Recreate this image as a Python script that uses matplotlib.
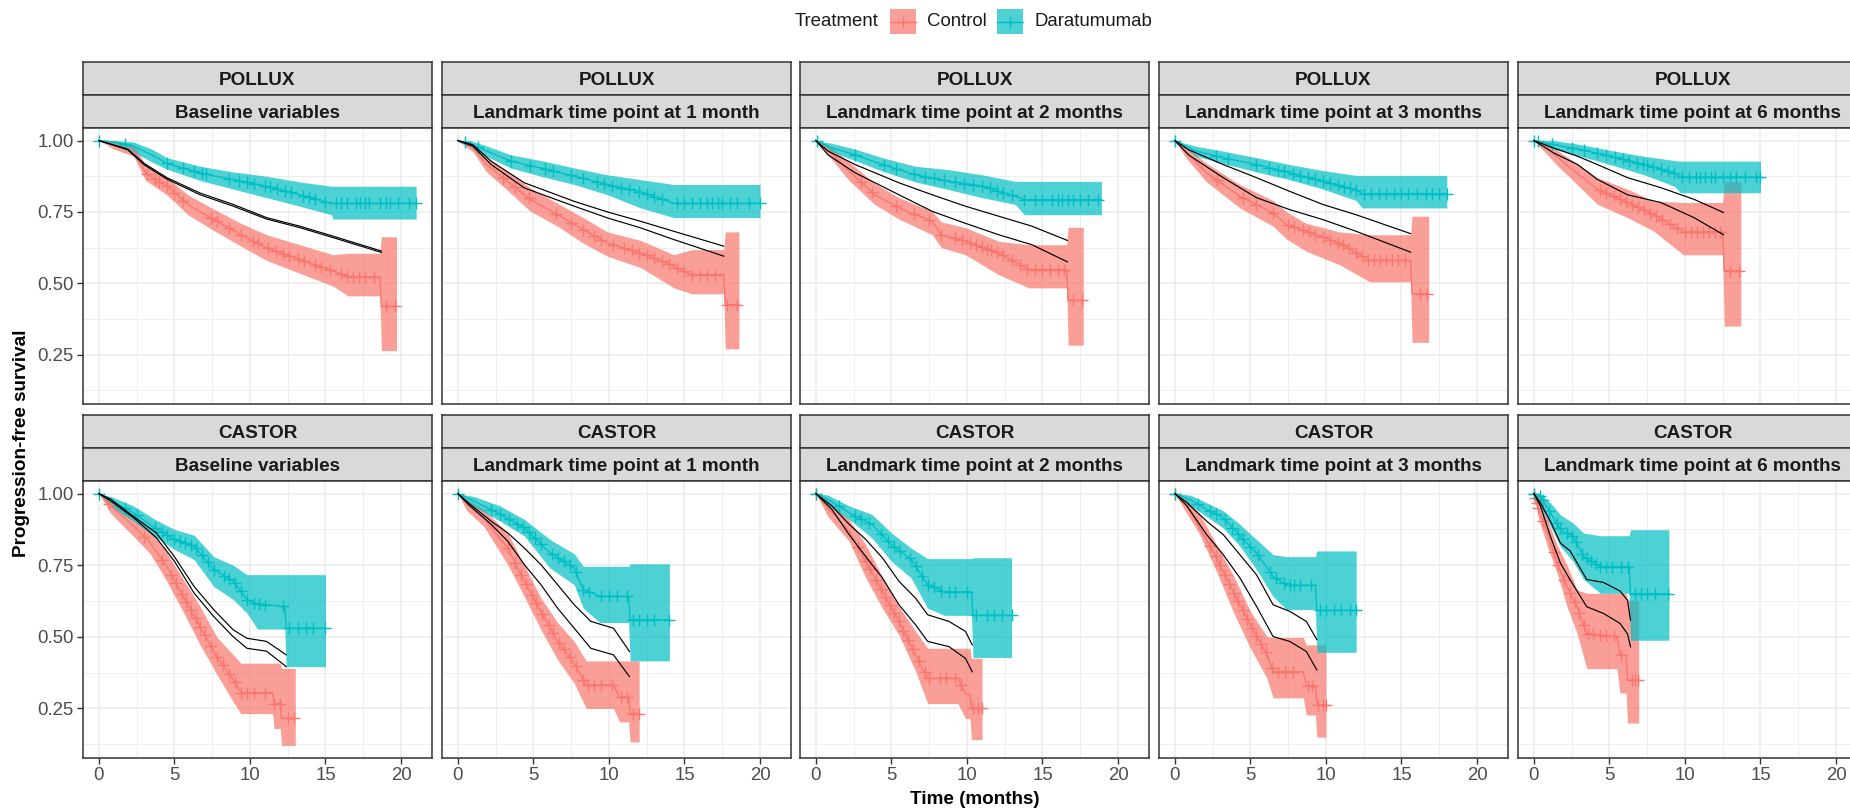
import numpy as np
import matplotlib
matplotlib.use('Agg')
import matplotlib.pyplot as plt
from matplotlib.patches import Rectangle
from matplotlib.lines import Line2D

plt.rcParams['font.family'] = ['Liberation Sans', 'DejaVu Sans']

CTRL = '#F8766D'
DARA = '#00BFC4'

studies = ['POLLUX', 'CASTOR']
landmarks = ['Baseline variables', 'Landmark time point at 1 month', 'Landmark time point at 2 months',
             'Landmark time point at 3 months', 'Landmark time point at 6 months']
x_ticks = [0, 5, 10, 15, 20]
y_ticks = [0.25, 0.50, 0.75, 1.00]

# KM curves: rows of (time, surv, lower CI, upper CI)
pollux_bl_dara = [[0, 1, 1, 1], [1.0, .995, .985, 1], [2.3, .98, .96, .995], [3.5, .95, .925, .97],
                  [4.5, .92, .90, .94], [6.7, .886, .86, .91], [8.9, .863, .83, .89], [11.1, .84, .80, .875],
                  [13.3, .81, .77, .855], [15.4, .78, .74, .84], [15.5, .78, .725, .84], [21.0, .78, .725, .84]]
pollux_bl_ctrl = [[0, 1, 1, 1], [1.0, .985, .97, 1], [2.3, .967, .945, .985], [3.1, .886, .86, .915],
                  [4.5, .84, .81, .87], [5.9, .776, .74, .81], [7.6, .723, .685, .76], [9.4, .67, .63, .71],
                  [11.1, .624, .58, .67], [13.3, .584, .535, .635], [15.5, .543, .49, .60],
                  [16.5, .522, .456, .605], [18.6, .522, .456, .605], [18.7, .419, .264, .663],
                  [19.7, .419, .264, .663]]
pollux_lm1_dara = [[0, 1, 1, 1], [0.8, .99, .98, 1], [1.7, .968, .95, .985], [3.5, .928, .904, .95],
                   [5.5, .904, .875, .93], [7.7, .875, .846, .904], [9.9, .846, .81, .88], [12.1, .82, .764, .863],
                   [14.3, .78, .73, .846], [20.0, .78, .73, .846]]
pollux_lm1_ctrl = [[0, 1, 1, 1], [1.0, .975, .96, .99], [1.9, .916, .89, .94], [3.3, .857, .825, .89],
                   [4.8, .793, .752, .834], [6.6, .74, .70, .78], [8.3, .688, .64, .73], [9.9, .64, .595, .68],
                   [12.1, .606, .555, .65], [14.3, .56, .484, .60], [15.5, .53, .463, .618],
                   [17.6, .53, .463, .618], [17.7, .425, .27, .68], [18.6, .425, .27, .68]]
pollux_lm2_dara = [[0, 1, 1, 1], [1.06, .974, .96, .99], [2.6, .95, .93, .97], [4.4, .916, .893, .94],
                   [6.6, .88, .855, .91], [8.8, .857, .828, .898], [11.0, .84, .80, .88], [13.2, .805, .776, .857],
                   [13.8, .793, .74, .857], [18.9, .793, .74, .857]]
pollux_lm2_ctrl = [[0, 1, 1, 1], [0.8, .968, .95, .985], [2.2, .893, .86, .925], [3.9, .81, .776, .85],
                   [5.5, .764, .725, .80], [7.7, .717, .67, .752], [8.3, .67, .625, .715], [9.9, .647, .60, .695],
                   [12.1, .606, .53, .647], [14.1, .548, .484, .635], [16.6, .548, .484, .635],
                   [16.7, .44, .283, .696], [17.7, .44, .283, .696]]
pollux_lm3_dara = [[0, 1, 1, 1], [1.4, .963, .945, .98], [3.2, .94, .92, .963], [5.4, .916, .89, .94],
                   [7.6, .887, .863, .916], [9.8, .857, .83, .895], [12.0, .828, .79, .878],
                   [12.4, .814, .764, .878], [18.0, .814, .764, .878]]
pollux_lm3_ctrl = [[0, 1, 1, 1], [0.8, .957, .935, .975], [2.1, .887, .855, .92], [4.3, .805, .764, .846],
                   [6.5, .746, .70, .79], [7.4, .705, .655, .75], [8.7, .682, .612, .71], [10.9, .64, .565, .68],
                   [12.9, .58, .505, .67], [15.6, .58, .505, .67], [15.7, .463, .293, .735],
                   [16.8, .463, .293, .735]]
pollux_lm6_dara = [[0, 1, 1, 1], [1.3, .986, .97, 1], [3.1, .968, .945, .986], [5.1, .945, .915, .965],
                   [7.3, .916, .88, .945], [9.3, .887, .84, .93], [9.7, .872, .817, .928],
                   [15.0, .872, .817, .928]]
pollux_lm6_ctrl = [[0, 1, 1, 1], [0.9, .974, .95, .99], [1.5, .945, .915, .968], [2.4, .905, .87, .935],
                   [4.2, .83, .777, .87], [6.2, .783, .73, .83], [7.9, .742, .684, .788], [9.9, .68, .60, .783],
                   [12.5, .68, .60, .783], [12.6, .544, .35, .856], [13.7, .544, .35, .856]]

castor_bl_dara = [[0, 1, 1, 1], [0.8, .974, .955, .99], [2.3, .933, .904, .957], [3.7, .88, .85, .91],
                  [5.0, .84, .805, .875], [6.3, .817, .77, .855], [7.6, .735, .676, .78], [8.9, .694, .63, .75],
                  [9.8, .63, .583, .717], [10.5, .615, .527, .717], [12.3, .606, .527, .717],
                  [12.4, .53, .396, .717], [15.0, .53, .396, .717]]
castor_bl_ctrl = [[0, 1, 1, 1], [0.8, .957, .93, .98], [2.3, .887, .85, .92], [3.4, .828, .79, .87],
                  [4.5, .746, .694, .793], [5.6, .64, .585, .70], [6.7, .536, .472, .606], [7.8, .43, .37, .50],
                  [8.9, .35, .273, .437], [9.4, .305, .232, .408], [11.5, .305, .232, .408],
                  [11.6, .267, .18, .408], [12.0, .267, .18, .408], [12.1, .215, .121, .39],
                  [13.0, .215, .121, .39]]
castor_lm1_dara = [[0, 1, 1, 1], [1.06, .974, .955, .99], [2.8, .928, .904, .957], [4.4, .88, .852, .91],
                   [6.1, .793, .74, .84], [7.7, .74, .682, .79], [8.3, .665, .60, .746], [9.4, .641, .55, .746],
                   [11.3, .641, .55, .746], [11.4, .56, .416, .755], [14.0, .56, .416, .755]]
castor_lm1_ctrl = [[0, 1, 1, 1], [0.6, .963, .94, .98], [1.7, .916, .887, .945], [3.3, .81, .752, .863],
                   [4.4, .694, .64, .75], [5.5, .589, .525, .636], [6.6, .484, .42, .55], [7.7, .408, .338, .484],
                   [8.5, .332, .25, .416], [10.3, .332, .25, .416], [10.7, .29, .203, .416],
                   [11.3, .29, .203, .416], [11.4, .232, .133, .416], [12.0, .232, .133, .416]]
castor_lm2_dara = [[0, 1, 1, 1], [0.8, .98, .96, .995], [2.2, .933, .91, .957], [3.7, .893, .846, .928],
                   [5.0, .822, .764, .863], [6.3, .77, .706, .81], [7.4, .682, .60, .773], [8.5, .657, .575, .773],
                   [10.3, .657, .575, .773], [10.4, .575, .428, .776], [12.95, .575, .428, .776]]
castor_lm2_ctrl = [[0, 1, 1, 1], [0.8, .95, .92, .975], [2.2, .87, .834, .91], [3.3, .764, .706, .822],
                   [4.4, .659, .60, .71], [5.5, .554, .507, .606], [6.6, .437, .38, .52], [7.4, .355, .267, .46],
                   [9.4, .355, .267, .46], [9.9, .30, .215, .46], [10.2, .30, .215, .46],
                   [10.3, .25, .141, .425], [11.0, .25, .141, .425]]
castor_lm3_dara = [[0, 1, 1, 1], [1.0, .98, .96, .995], [2.1, .945, .92, .968], [3.2, .916, .88, .94],
                   [4.3, .852, .817, .893], [5.4, .793, .735, .84], [6.5, .711, .641, .787], [7.4, .68, .595, .78],
                   [9.3, .68, .595, .78], [9.4, .592, .446, .80], [12.0, .592, .446, .80]]
castor_lm3_ctrl = [[0, 1, 1, 1], [0.8, .957, .93, .98], [1.65, .88, .857, .928], [2.75, .776, .729, .822],
                   [3.85, .659, .589, .717], [5.0, .542, .46, .589], [6.1, .437, .355, .501],
                   [6.5, .378, .287, .498], [8.5, .378, .287, .498], [8.7, .33, .227, .472],
                   [9.3, .33, .227, .472], [9.4, .262, .15, .472], [10.0, .262, .15, .472]]
castor_lm6_dara = [[0, 1, 1, 1], [0.44, .99, .956, 1], [1.1, .932, .886, .967], [1.76, .874, .815, .926],
                   [2.6, .85, .763, .897], [3.3, .78, .70, .862], [4.4, .745, .652, .853],
                   [6.3, .745, .652, .853], [6.4, .65, .488, .874], [8.94, .65, .488, .874]]
castor_lm6_ctrl = [[0, 1, 1, 1], [0.33, .944, .909, .98], [0.9, .862, .815, .909], [1.54, .757, .722, .82],
                   [2.2, .675, .605, .75], [2.86, .605, .512, .664], [3.5, .512, .389, .652],
                   [5.5, .50, .389, .652], [5.7, .436, .304, .652], [6.1, .436, .304, .652],
                   [6.2, .348, .199, .628], [6.94, .348, .199, .628]]

# censoring times (+ marks): (daratumumab, control)
pollux_bl_cens = ([0, 1.7, 4.5, 5.6, 6.3, 6.8, 7.1, 8.6, 9.3, 9.8, 10.3, 11.0, 11.3, 11.8, 12.3, 12.7, 13.5, 13.9,
                   14.3, 15.0, 15.7, 16.0, 16.4, 17.0, 17.3, 17.6, 17.9, 18.6, 19.0, 19.3, 19.8, 20.5, 21.0],
                  [3.2, 3.7, 4.0, 4.5, 5.0, 5.6, 7.4, 7.8, 8.6, 9.4, 10.2, 10.5, 11.2, 11.7, 12.2, 12.6, 13.2,
                   13.6, 14.3, 14.7, 15.3, 16.0, 16.4, 16.8, 17.2, 17.6, 18.2, 19.0, 19.6])
pollux_lm1_cens = ([0.5, 1.3, 3.5, 4.8, 5.8, 6.3, 7.5, 8.3, 9.2, 9.7, 10.2, 10.8, 11.3, 12.0, 12.5, 13.0, 13.5,
                    14.5, 15.0, 15.5, 16.0, 16.5, 16.8, 17.2, 17.5, 18.0, 18.5, 19.3, 20.0],
                   [3.0, 3.8, 4.7, 6.5, 7.5, 8.3, 9.0, 9.5, 10.3, 11.0, 11.5, 12.0, 12.5, 13.0, 13.5, 14.0,
                    14.5, 15.0, 15.5, 16.0, 16.5, 17.0, 17.8, 18.5])
pollux_lm2_cens = ([0.1, 2.6, 4.5, 5.3, 6.5, 7.2, 7.8, 8.5, 9.2, 9.8, 10.4, 11.0, 11.5, 12.0, 12.4, 13.0, 13.8,
                    14.5, 15.0, 15.6, 16.0, 16.3, 16.7, 17.0, 17.5, 18.0, 18.7],
                   [3.0, 3.7, 5.3, 6.5, 7.5, 8.3, 9.2, 9.7, 10.2, 10.6, 11.0, 11.3, 11.6, 12.0, 12.4, 13.0,
                    13.5, 14.0, 14.5, 15.0, 15.5, 16.0, 16.4, 17.0, 17.6])
pollux_lm3_cens = ([0.0, 2.7, 3.5, 5.4, 6.2, 6.8, 7.2, 7.8, 8.3, 8.8, 9.3, 9.8, 10.3, 10.8, 11.2, 11.6, 12.0,
                    12.5, 13.0, 13.5, 14.0, 14.5, 15.0, 15.4, 16.0, 16.6, 17.0, 17.5, 18.0],
                   [2.8, 4.5, 5.4, 6.5, 7.5, 7.9, 8.5, 8.9, 9.3, 9.8, 10.3, 10.8, 11.1, 11.5, 12.0, 12.4,
                    12.8, 13.2, 13.6, 14.0, 14.4, 14.8, 15.2, 16.2, 16.7])
pollux_lm6_cens = ([0.0, 0.3, 1.2, 2.5, 3.3, 4.2, 4.8, 5.4, 5.9, 6.3, 6.8, 7.2, 7.5, 7.9, 8.4, 8.9, 9.3, 9.8,
                    10.3, 10.7, 11.0, 11.3, 11.7, 12.0, 12.5, 13.0, 13.4, 14.0, 14.7, 15.0],
                   [4.4, 4.8, 5.3, 5.7, 6.1, 6.5, 6.9, 7.3, 7.7, 8.1, 8.5, 9.0, 9.5, 10.0, 10.4, 10.8, 11.2,
                    11.6, 12.0, 12.3, 13.0, 13.6])
castor_bl_cens = ([0.0, 1.7, 2.5, 3.7, 4.2, 4.5, 5.0, 5.4, 5.7, 6.1, 6.4, 6.8, 7.2, 7.6, 8.3, 8.6, 9.0, 9.4,
                   9.8, 10.3, 10.6, 11.0, 12.2, 12.6, 13.2, 13.7, 14.2, 15.0],
                  [0.7, 3.0, 4.2, 4.8, 5.1, 5.5, 5.8, 6.1, 6.4, 6.7, 7.0, 7.4, 7.8, 8.2, 8.6, 9.0, 9.4, 9.8,
                   10.3, 11.0, 11.6, 12.0, 12.5, 12.9])
castor_lm1_cens = ([0.0, 2.2, 2.8, 3.4, 3.9, 4.3, 4.7, 5.1, 5.5, 6.2, 6.6, 7.0, 7.4, 7.8, 8.3, 8.7, 9.5, 10.0,
                    10.5, 11.2, 11.6, 12.0, 12.5, 13.0, 14.0],
                   [3.3, 3.8, 4.2, 4.5, 4.9, 5.2, 5.6, 6.0, 6.3, 6.7, 7.0, 7.4, 7.8, 8.3, 8.6, 9.0, 9.5,
                    10.2, 10.8, 11.2, 11.6, 12.0])
castor_lm2_cens = ([0.0, 1.5, 2.6, 3.0, 3.5, 4.3, 4.8, 5.2, 5.6, 6.2, 6.6, 7.0, 7.4, 7.8, 8.3, 8.8, 9.2, 10.0,
                    10.6, 11.3, 11.8, 12.3, 12.95],
                   [0.0, 2.8, 3.3, 3.6, 4.0, 4.3, 4.6, 4.9, 5.2, 5.5, 5.8, 6.1, 6.4, 6.8, 7.2, 7.5, 8.2,
                    8.6, 9.2, 9.6, 10.4, 10.7, 11.0])
castor_lm3_cens = ([0.0, 1.5, 2.3, 2.7, 3.3, 3.8, 4.2, 4.5, 5.0, 5.5, 6.3, 6.7, 7.2, 7.6, 7.9, 8.3, 9.0, 9.6,
                    10.0, 10.5, 11.0, 11.6, 12.0],
                   [0.0, 2.3, 2.7, 3.0, 3.3, 3.6, 3.9, 4.2, 4.5, 4.8, 5.1, 5.4, 5.7, 6.0, 6.4, 6.8, 7.3,
                    7.8, 8.8, 9.1, 9.5, 9.8, 10.0])
castor_lm6_cens = ([0.0, 0.4, 0.6, 1.0, 1.5, 1.7, 2.2, 2.5, 2.8, 3.2, 3.5, 3.8, 4.1, 4.4, 4.8, 5.2, 5.8, 6.2,
                    6.7, 7.1, 7.5, 8.0, 8.9],
                   [0.0, 0.1, 0.2, 0.3, 0.6, 1.3, 1.6, 2.0, 2.4, 2.7, 3.0, 3.3, 3.6, 3.9, 4.4, 4.8, 5.3,
                    5.8, 6.5, 6.7, 6.9])

# model-predicted curves (two black lines): time, line a, line b
pollux_bl_pred = [[0, 1.9, 3.0, 4.5, 6.7, 8.9, 11.1, 13.3, 15.5, 18.7],
                  [1, .97, .92, .87, .816, .776, .73, .70, .665, .613],
                  [1, .968, .915, .865, .81, .77, .725, .695, .66, .608]]
pollux_lm1_pred = [[0, 1.0, 2.2, 4.4, 7.7, 9.9, 12.1, 14.3, 17.6],
                   [1, .985, .928, .852, .787, .75, .717, .682, .63],
                   [1, .98, .916, .834, .77, .729, .694, .653, .595]]
pollux_lm2_pred = [[0, 0.8, 2.6, 5.5, 7.7, 9.9, 12.1, 14.3, 16.65],
                   [1, .963, .916, .852, .81, .77, .735, .70, .65],
                   [1, .95, .887, .81, .752, .71, .67, .635, .575]]
pollux_lm3_pred = [[0, 0.9, 3.2, 5.4, 7.6, 9.8, 12.0, 15.6],
                   [1, .968, .916, .87, .822, .776, .74, .674],
                   [1, .95, .87, .80, .758, .723, .682, .609]]
pollux_lm6_pred = [[0, 1.3, 2.9, 4.2, 6.2, 8.4, 10.6, 12.55],
                   [1, .974, .945, .916, .87, .835, .794, .748],
                   [1, .957, .916, .864, .81, .783, .73, .67]]
castor_bl_pred = [[0, 0.8, 2.3, 3.8, 5.0, 6.3, 7.6, 8.9, 9.8, 11.1, 12.4],
                  [1, .98, .92, .863, .78, .676, .595, .524, .495, .484, .437],
                  [1, .974, .916, .846, .764, .653, .571, .50, .46, .45, .396]]
castor_lm1_pred = [[0, 0.8, 2.2, 3.3, 4.4, 5.5, 6.6, 7.7, 8.8, 10.3, 11.36],
                   [1, .963, .904, .863, .81, .752, .682, .612, .554, .53, .449],
                   [1, .957, .893, .834, .752, .682, .60, .53, .46, .437, .361]]
castor_lm2_pred = [[0, 1.06, 2.2, 3.3, 4.4, 5.5, 6.6, 7.4, 8.8, 9.9, 10.35],
                   [1, .957, .893, .84, .776, .694, .635, .577, .554, .519, .472],
                   [1, .945, .857, .78, .706, .612, .542, .484, .466, .425, .378]]
castor_lm3_pred = [[0, 0.8, 2.1, 3.2, 4.3, 5.4, 6.5, 7.6, 8.7, 9.4],
                   [1, .968, .904, .857, .787, .717, .612, .589, .554, .49],
                   [1, .957, .857, .787, .706, .607, .501, .484, .449, .384]]
castor_lm6_pred = [[0, 0.44, 1.1, 1.76, 2.4, 3.5, 4.6, 5.7, 6.2, 6.4],
                   [1, .967, .903, .827, .80, .70, .69, .66, .628, .558],
                   [1, .956, .85, .757, .699, .605, .582, .547, .51, .465]]

panels = [
    [(pollux_bl_ctrl, pollux_bl_dara, pollux_bl_cens, pollux_bl_pred),
     (pollux_lm1_ctrl, pollux_lm1_dara, pollux_lm1_cens, pollux_lm1_pred),
     (pollux_lm2_ctrl, pollux_lm2_dara, pollux_lm2_cens, pollux_lm2_pred),
     (pollux_lm3_ctrl, pollux_lm3_dara, pollux_lm3_cens, pollux_lm3_pred),
     (pollux_lm6_ctrl, pollux_lm6_dara, pollux_lm6_cens, pollux_lm6_pred)],
    [(castor_bl_ctrl, castor_bl_dara, castor_bl_cens, castor_bl_pred),
     (castor_lm1_ctrl, castor_lm1_dara, castor_lm1_cens, castor_lm1_pred),
     (castor_lm2_ctrl, castor_lm2_dara, castor_lm2_cens, castor_lm2_pred),
     (castor_lm3_ctrl, castor_lm3_dara, castor_lm3_cens, castor_lm3_pred),
     (castor_lm6_ctrl, castor_lm6_dara, castor_lm6_cens, castor_lm6_pred)],
]

W, H = 1850, 811
fig = plt.figure(figsize=(W / 100, H / 100), dpi=100)


def box(x0, y0, x1, y1):
    return [x0 / W, 1 - y1 / H, (x1 - x0) / W, (y1 - y0) / H]


col_left = [83, 442, 800, 1159, 1518]
panel_w = 349
rows = [(62, 95, 128, 404), (415, 448, 481, 758)]
TXT = 13.4


def strip(x0, y0, x1, y1, label):
    sa = fig.add_axes(box(x0, y0, x1, y1))
    sa.set_facecolor('#D9D9D9')
    sa.set_xticks([])
    sa.set_yticks([])
    for sp in sa.spines.values():
        sp.set_color('#333333')
        sp.set_linewidth(1.1)
    sa.text(0.5, 0.45, label, ha='center', va='center', fontsize=13.6, fontweight='bold',
            color='#1A1A1A', transform=sa.transAxes)


def draw_km(ax, tab, cens, color):
    tab = np.array(tab)
    t, s, lo, hi = tab[:, 0], tab[:, 1], tab[:, 2], tab[:, 3]
    ax.fill_between(t, lo, hi, color=color, alpha=0.7, lw=0, zorder=2)
    ax.plot(t, s, color=color, lw=1.0, zorder=3)
    c = np.array(cens)
    ax.plot(c, np.interp(c, t, s), ls='none', marker='+', ms=8, mew=1.0, color=color, zorder=4)


for r, (st_top, st_mid, p_top, p_bot) in enumerate(rows):
    for c in range(5):
        x0 = col_left[c]
        x1 = x0 + panel_w
        strip(x0, st_top, x1, st_mid, studies[r])
        strip(x0, st_mid, x1, p_top, landmarks[c])
        ax = fig.add_axes(box(x0, p_top, x1, p_bot))
        ctrl, dara, cens, pred = panels[r][c]
        draw_km(ax, ctrl, cens[1], CTRL)
        draw_km(ax, dara, cens[0], DARA)
        ax.plot(pred[0], pred[1], color='black', lw=0.85, zorder=5)
        ax.plot(pred[0], pred[2], color='black', lw=0.85, zorder=5)

        ax.set_xlim(-1.05, 22.05)
        ax.set_ylim(0.077, 1.044)
        ax.set_xticks(x_ticks)
        ax.set_xticks([2.5, 7.5, 12.5, 17.5], minor=True)
        ax.set_yticks(y_ticks)
        ax.set_yticks([0.125, 0.375, 0.625, 0.875], minor=True)
        ax.grid(which='major', color='#EBEBEB', lw=1.1, zorder=0)
        ax.grid(which='minor', color='#EBEBEB', lw=0.6, zorder=0)
        ax.set_axisbelow(True)
        for sp in ax.spines.values():
            sp.set_color('#333333')
            sp.set_linewidth(1.1)
        ax.tick_params(which='minor', length=0)
        ax.tick_params(which='major', length=4, width=1, color='#333333', labelsize=TXT,
                       labelcolor='#4D4D4D', pad=2.5)
        if c == 0:
            ax.set_yticklabels(['0.25', '0.50', '0.75', '1.00'])
        else:
            ax.tick_params(axis='y', length=0, labelleft=False)
        if r == 0:
            ax.tick_params(axis='x', length=0, labelbottom=False)

fig.text(975 / W, 1 - 799 / H, 'Time (months)', ha='center', va='center', fontsize=13.6, fontweight='bold')
fig.text(22 / W, 1 - 443 / H, 'Progression-free survival', ha='center', va='center', rotation=90,
         fontsize=13.6, fontweight='bold')

# legend
fig.text(795 / W, 1 - 21 / H, 'Treatment', ha='left', va='center', fontsize=TXT, color='#1A1A1A')
for kx, tx, lab, col in [(890, 927, 'Control', CTRL), (997, 1035, 'Daratumumab', DARA)]:
    fig.add_artist(Rectangle((kx / W, 1 - 34 / H), 26 / W, 25 / H, transform=fig.transFigure,
                             facecolor=col, alpha=0.7, lw=0))
    fig.add_artist(Line2D([kx / W, (kx + 26) / W], [1 - 21.5 / H, 1 - 21.5 / H], transform=fig.transFigure,
                          color=col, lw=1.0))
    fig.add_artist(Line2D([(kx + 13) / W], [1 - 21.5 / H], transform=fig.transFigure, color=col,
                          marker='+', ms=8, mew=1.0, ls='none'))
    fig.text(tx / W, 1 - 21 / H, lab, ha='left', va='center', fontsize=TXT, color='#1A1A1A')

fig.savefig('out.png', dpi=100)
